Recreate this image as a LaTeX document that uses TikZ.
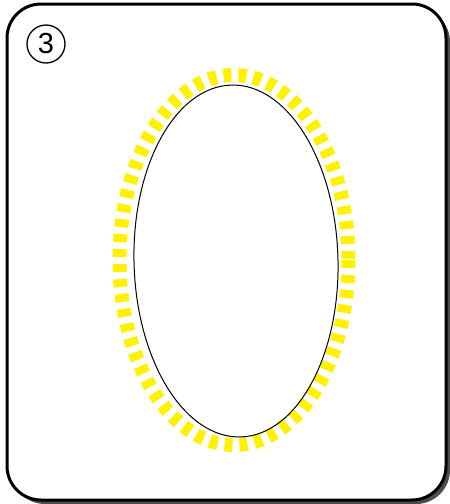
\documentclass[tikz,border=0pt]{standalone}
\usepackage{fontspec}
\setmainfont{Liberation Sans}
\tikzset{
  frame/.style={line width=3pt,rounded corners=34pt},
  glow/.style={yellow,line width=14pt,dash pattern=on 8pt off 7pt},
}
\begin{document}
\begin{tikzpicture}[x=1pt,y=-1pt]
\useasboundingbox (0,0) rectangle (450,504);
\fill[black!70,rounded corners=34pt] (11,8) rectangle (450,504);
\draw[frame,fill=white] (7,4) rectangle (446,500);
\node[draw,circle,line width=1.3pt,minimum size=38pt,inner sep=0pt,font=\fontsize{29}{29}\selectfont] (num) at (46,44) {3};
\draw[glow] (234,260) ellipse [x radius=114.5,y radius=185];
\draw[line width=1pt,rotate around={1.5:(236,261)}] (236,261) ellipse [x radius=102,y radius=176];
\end{tikzpicture}
\end{document}
